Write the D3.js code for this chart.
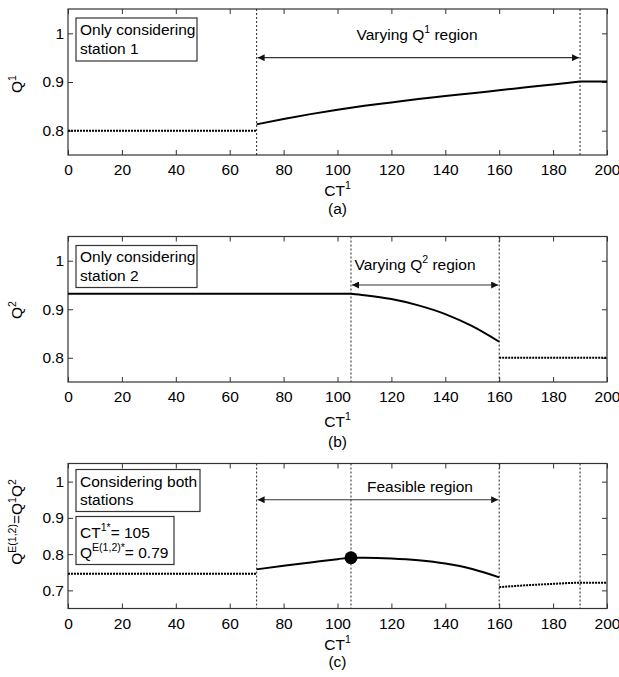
<!DOCTYPE html>
<html>
<head>
<meta charset="utf-8">
<script src="https://cdn.jsdelivr.net/npm/d3@7"></script>
<style>
  body { margin: 0; background: #fff; }
  svg { font-family: "Liberation Sans", Arial, sans-serif; }
</style>
</head>
<body>
<div class="vis"></div>
<script>
'use strict';

// shared x ticks (CT^1)
var ctTicks = [0, 20, 40, 60, 80, 100, 120, 140, 160, 180, 200];

// panel (a): Q^1
var q1LeftCT = [0, 70];
var q1Left = [0.8, 0.8];
var q1VaryCT = [70, 80, 90, 100, 110, 120, 130, 140, 150, 160, 170, 180, 190];
var q1Vary = [0.813, 0.824, 0.834, 0.843, 0.851, 0.858, 0.865, 0.871, 0.877, 0.883, 0.889, 0.895, 0.901];
var q1RightCT = [190, 200];
var q1Right = [0.901, 0.901];

// panel (b): Q^2
var q2FlatCT = [0, 105];
var q2Flat = [0.932, 0.932];
var q2VaryCT = [105, 110, 120, 130, 140, 150, 160];
var q2Vary = [0.932, 0.929, 0.921, 0.908, 0.890, 0.865, 0.833];
var q2RightCT = [160, 200];
var q2Right = [0.8, 0.8];

// panel (c): Q^E(1,2) = Q^1 Q^2
var qeLeftCT = [0, 70];
var qeLeft = [0.746, 0.746];
var qeMidCT = [70, 80, 90, 100, 105, 110, 120, 130, 140, 150, 160];
var qeMid = [0.758, 0.768, 0.777, 0.786, 0.790, 0.790, 0.788, 0.783, 0.774, 0.759, 0.736];
var qeRightCT = [160, 170, 180, 190, 200];
var qeRight = [0.709, 0.714, 0.718, 0.721, 0.721];
var optimum = [105, 0.79];

var yTicksAB = [0.8, 0.9, 1];
var yTicksC = [0.7, 0.8, 0.9, 1];

var panels = [
  {
    top: 9, h: 146, yDomain: [0.75, 1.05], yTicks: yTicksAB,
    series: [
      { ct: q1LeftCT, q: q1Left, dotted: true },
      { ct: q1VaryCT, q: q1Vary },
      { ct: q1RightCT, q: q1Right }
    ],
    vlines: [70, 190], arrow: [70, 190],
    regionText: [{ t: 'Varying Q' }, { t: '1', sup: true }, { t: ' region' }], regionX: 417, regionY: 40,
    boxes: [{ x: 76, y: 18, w: 121, h: 43, lines: [[{ t: 'Only considering' }], [{ t: 'station 1' }]], base: [35, 54] }],
    yLabel: [{ t: 'Q' }, { t: '1', sup: true }], yLabelY: 84,
    ctBase: 196, tag: '(a)', tagBase: 214
  },
  {
    top: 236.5, h: 145.5, yDomain: [0.75, 1.05], yTicks: yTicksAB,
    series: [
      { ct: q2FlatCT, q: q2Flat },
      { ct: q2VaryCT, q: q2Vary },
      { ct: q2RightCT, q: q2Right, dotted: true }
    ],
    vlines: [105, 160], arrow: [105, 160],
    regionText: [{ t: 'Varying Q' }, { t: '2', sup: true }, { t: ' region' }], regionX: 415, regionY: 270,
    boxes: [{ x: 76, y: 245.5, w: 121, h: 42, lines: [[{ t: 'Only considering' }], [{ t: 'station 2' }]], base: [262, 281] }],
    yLabel: [{ t: 'Q' }, { t: '2', sup: true }], yLabelY: 310,
    ctBase: 427, tag: '(b)', tagBase: 447
  },
  {
    top: 463.5, h: 145, yDomain: [0.65, 1.05], yTicks: yTicksC,
    series: [
      { ct: qeLeftCT, q: qeLeft, dotted: true },
      { ct: qeMidCT, q: qeMid },
      { ct: qeRightCT, q: qeRight, dotted: true }
    ],
    vlines: [70, 105, 160, 190], arrow: [70, 160],
    regionText: [{ t: 'Feasible region' }], regionX: 420, regionY: 492,
    boxes: [
      { x: 76, y: 469.5, w: 124, h: 42, lines: [[{ t: 'Considering both' }], [{ t: 'stations' }]], base: [487, 505] },
      { x: 76, y: 516.5, w: 98, h: 48,
        lines: [
          [{ t: 'CT' }, { t: '1*', sup: true }, { t: '= 105' }],
          [{ t: 'Q' }, { t: 'E(1,2)*', sup: true }, { t: '= 0.79' }]
        ],
        base: [538, 558] }
    ],
    yLabel: [{ t: 'Q' }, { t: 'E(1,2)', sup: true }, { t: '=Q' }, { t: '1', sup: true }, { t: 'Q' }, { t: '2', sup: true }],
    yLabelY: 522, point: optimum,
    ctBase: 650, tag: '(c)', tagBase: 667
  }
];

var width = 619;
var height = 677;
var plotLeft = 68;
var plotRight = 607;
var fontSize = 15.5;
var axisColor = '#333';

var svg = d3.select('.vis')
  .append('svg')
  .attr('width', width)
  .attr('height', height);

// arrow head marker for region arrows
svg.append('defs').append('marker')
  .attr('id', 'head')
  .attr('viewBox', '0 0 10 10')
  .attr('refX', 10).attr('refY', 5)
  .attr('markerUnits', 'userSpaceOnUse')
  .attr('markerWidth', 9).attr('markerHeight', 7)
  .attr('orient', 'auto-start-reverse')
  .append('path')
  .attr('d', 'M0,0L10,5L0,10Z')
  .attr('fill', '#111');

var x = d3.scaleLinear().domain([0, 200]).range([plotLeft, plotRight]);

panels.forEach(drawPanel);

/**
 * Writes a text made of normal and superscript parts into a <text> element.
 */
function richText( text, parts, size ) {
  var supShift = size * 0.42;
  var up = false;
  parts.forEach(function(p) {
    var span = text.append('tspan').text(p.t);
    if ( p.sup && !up ) {
      span.attr('dy', -supShift).attr('font-size', size * 0.68);
      up = true;
    } else if ( p.sup ) {
      span.attr('font-size', size * 0.68);
    } else if ( up ) {
      span.attr('dy', supShift);
      up = false;
    }
  });
  return text;
}

function drawPanel( p ) {
  var bottom = p.top + p.h;
  var y = d3.scaleLinear().domain(p.yDomain).range([bottom, p.top]);
  var g = svg.append('g');

  // axes with inward ticks on all four sides
  var fmt = function(d) { return String(d); };

  g.append('g')
    .attr('transform', 'translate(0,' + bottom + ')')
    .call(d3.axisBottom(x).tickValues(ctTicks).tickFormat(fmt).tickSizeInner(-5).tickSizeOuter(0).tickPadding(9))
    .call(styleAxis);

  g.append('g')
    .attr('transform', 'translate(0,' + p.top + ')')
    .call(d3.axisTop(x).tickValues(ctTicks).tickFormat('').tickSizeInner(-5).tickSizeOuter(0))
    .call(styleAxis);

  g.append('g')
    .attr('transform', 'translate(' + plotLeft + ',0)')
    .call(d3.axisLeft(y).tickValues(p.yTicks).tickFormat(fmt).tickSizeInner(-5).tickSizeOuter(0).tickPadding(4))
    .call(styleAxis);

  g.append('g')
    .attr('transform', 'translate(' + plotRight + ',0)')
    .call(d3.axisRight(y).tickValues(p.yTicks).tickFormat('').tickSizeInner(-5).tickSizeOuter(0))
    .call(styleAxis);

  // frame
  g.append('rect')
    .attr('x', plotLeft).attr('y', p.top)
    .attr('width', plotRight - plotLeft).attr('height', p.h)
    .attr('fill', 'none').attr('stroke', axisColor).attr('stroke-width', 1.2);

  // vertical dotted boundaries
  g.selectAll('.vline')
    .data(p.vlines)
    .enter().append('line')
    .attr('x1', function(d) { return x(d); }).attr('x2', function(d) { return x(d); })
    .attr('y1', p.top).attr('y2', bottom)
    .attr('stroke', '#222').attr('stroke-width', 1)
    .attr('stroke-dasharray', '2,2');

  // region arrow
  g.append('line')
    .attr('x1', x(p.arrow[0]) + 1).attr('x2', x(p.arrow[1]) - 1)
    .attr('y1', y(0.95)).attr('y2', y(0.95))
    .attr('stroke', '#333').attr('stroke-width', 1.2)
    .attr('marker-start', 'url(#head)').attr('marker-end', 'url(#head)');

  richText(g.append('text')
    .attr('x', p.regionX).attr('y', p.regionY)
    .attr('text-anchor', 'middle')
    .attr('font-size', fontSize), p.regionText, fontSize);

  // data lines
  var line = d3.line()
    .x(function(d) { return x(d[0]); })
    .y(function(d) { return y(d[1]); })
    .curve(d3.curveMonotoneX);

  p.series.forEach(function(s) {
    var pts = s.ct.map(function(c, i) { return [c, s.q[i]]; });
    g.append('path')
      .attr('d', line(pts))
      .attr('fill', 'none')
      .attr('stroke', '#000')
      .attr('stroke-width', 2)
      .attr('stroke-dasharray', s.dotted ? '2,1' : null);
  });

  if ( p.point ) {
    g.append('circle')
      .attr('cx', x(p.point[0])).attr('cy', y(p.point[1]))
      .attr('r', 6.5).attr('fill', '#000');
  }

  // text boxes
  p.boxes.forEach(function(b) {
    g.append('rect')
      .attr('x', b.x).attr('y', b.y).attr('width', b.w).attr('height', b.h)
      .attr('fill', '#fff').attr('stroke', '#333').attr('stroke-width', 1.2);
    b.lines.forEach(function(parts, i) {
      richText(g.append('text')
        .attr('x', b.x + 4).attr('y', b.base[i])
        .attr('font-size', fontSize), parts, fontSize);
    });
  });

  // axis titles
  richText(g.append('text')
    .attr('transform', 'translate(22,' + p.yLabelY + ') rotate(-90)')
    .attr('text-anchor', 'middle')
    .attr('font-size', fontSize), p.yLabel, fontSize);

  richText(g.append('text')
    .attr('x', x(100)).attr('y', p.ctBase)
    .attr('text-anchor', 'middle')
    .attr('font-size', fontSize), [{ t: 'CT' }, { t: '1', sup: true }], fontSize);

  g.append('text')
    .attr('x', x(100)).attr('y', p.tagBase)
    .attr('text-anchor', 'middle')
    .attr('font-size', fontSize)
    .text(p.tag);
}

function styleAxis( sel ) {
  sel.select('.domain').remove();
  sel.selectAll('.tick line').attr('stroke', axisColor);
  sel.selectAll('.tick text')
    .attr('font-size', fontSize)
    .attr('font-family', '"Liberation Sans", Arial, sans-serif')
    .attr('fill', '#000');
}
</script>
</body>
</html>
